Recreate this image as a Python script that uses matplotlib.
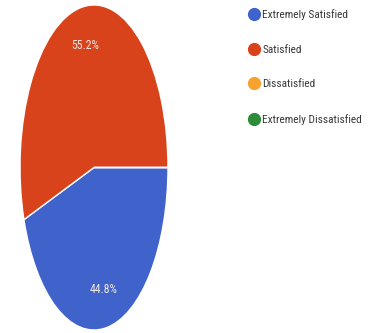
import matplotlib
matplotlib.use("Agg")
import matplotlib.pyplot as plt
from matplotlib.lines import Line2D

categories = ["Extremely Satisfied", "Satisfied", "Dissatisfied", "Extremely Dissatisfied"]
shares = [44.8, 55.2, 0.0, 0.0]
colors = ["#3F63CB", "#D8431C", "#F7A12F", "#2E8B3A"]

fam = ["Roboto Condensed", "DejaVu Sans"]

W, H = 368, 333
fig = plt.figure(figsize=(W / 100, H / 100), dpi=100)

# the pie is drawn squashed (ellipse) and sits at the left edge
ax = fig.add_axes([20 / W, 3 / H, 148 / W, 325 / H])


def pct(p):
    return f"{p:.1f}%" if p > 0 else ""


wedges, texts, autotexts = ax.pie(
    shares, colors=colors, startangle=0, counterclock=False,
    autopct=pct, pctdistance=0.76,
    wedgeprops=dict(edgecolor="white", linewidth=1.0),
    textprops=dict(color="#F4E9E2", fontsize=8.5, family=fam),
)
ax.set_aspect("auto")
ax.set_xlim(-1, 1)
ax.set_ylim(-1, 1)

handles = [Line2D([], [], marker="o", linestyle="none", markersize=8.5,
                  markerfacecolor=c, markeredgecolor=c) for c in colors]
fig.legend(handles, categories, loc="upper left", bbox_to_anchor=(245 / W, 1 - 5 / H),
           frameon=False, prop=dict(family=fam, size=8.2), labelspacing=2.15,
           handlelength=0.8, handletextpad=0.3, labelcolor="#383838", borderaxespad=0)

fig.savefig("out.png", dpi=100, facecolor="white")
